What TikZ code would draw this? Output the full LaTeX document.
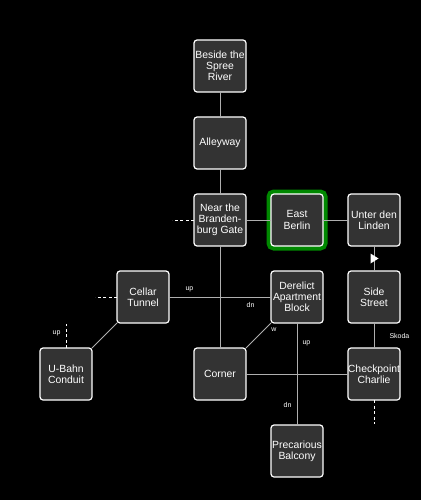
\documentclass[tikz,border=0pt]{standalone}
\usepackage{fontspec}
\setmainfont{Liberation Sans}
\usetikzlibrary{positioning}
\definecolor{roomfill}{RGB}{51,51,51}
\definecolor{linkgray}{RGB}{175,175,175}
\definecolor{hlgreen}{RGB}{0,136,0}
\tikzset{
  room/.style={rectangle, draw=white, fill=roomfill, text=white,
    minimum width=52pt, minimum height=52pt, inner sep=0pt, outer sep=0pt,
    align=center, font=\fontsize{10.4}{11.2}\selectfont,
    rounded corners=3pt, line width=1.2pt},
  current/.style={preaction={draw=hlgreen, line width=9pt}},
  link/.style={draw=linkgray, line width=1pt},
  stub/.style={draw=white, line width=1pt, dash pattern=on 3pt off 2.5pt},
  tag/.style={text=white, font=\fontsize{7}{8}\selectfont, inner sep=1pt}
}
\begin{document}
\begin{tikzpicture}[x=1pt, y=1pt, node distance=25pt and 25pt]
  \fill[black] (0,0) rectangle (421,-500);
  \useasboundingbox (0,0) rectangle (421,-500);

  \node[room] (spree) at (220,-66) {Beside the\\Spree\\River};
  \node[room, below=of spree] (alley) {Alleyway};
  \node[room, below=of alley] (gate) {Near the\\Branden-\\burg Gate};
  \node[room, current, right=of gate] (east) {East\\Berlin};
  \node[room, right=of east] (linden) {Unter den\\Linden};
  \node[room, below=of east] (derelict) {Derelict\\Apartment\\Block};
  \node[room, below=of linden] (side) {Side\\Street};
  \node[room, below=of side] (checkpoint) {Checkpoint\\Charlie};
  \node[room, left=102pt of derelict] (cellar) {Cellar\\Tunnel};
  \node[room, below left=of cellar] (ubahn) {U-Bahn\\Conduit};
  \node[room, below=102pt of gate] (corner) {Corner};
  \node[room, below=102pt of derelict] (balcony) {Precarious\\Balcony};

  % exits that lead off the map
  \coordinate[left=22pt of gate] (gateexit);
  \coordinate[left=22pt of cellar] (cellarexit);
  \coordinate[above=24pt of ubahn] (ubahnexit);
  \coordinate[below=24pt of checkpoint] (checkexit);

  \draw[link] (spree) -- (alley);
  \draw[link] (alley) -- (gate);
  \draw[link] (gate) -- (east);
  \draw[link] (east) -- (linden);
  \draw[link] (gate) -- (corner);
  \draw[link] (cellar) -- node[tag, pos=0.2, above=4pt] {up}
    node[tag, pos=0.8, below=4pt] {dn} (derelict);
  \draw[link] (cellar) -- (ubahn);
  \draw[link] (derelict) -- node[tag, pos=0.25, right=5pt] {w} (corner);
  \draw[link] (derelict) -- node[tag, pos=0.2, right=4pt] {up}
    node[tag, pos=0.8, left=4pt] {dn} (balcony);
  \draw[link] (corner) -- (checkpoint);
  \draw[link] (linden) -- coordinate[midway] (onewaymark) (side);
  \fill[white] (onewaymark) ++(-3.5,5) -- ++(8,-5) -- ++(-8,-5) -- cycle;
  \draw[link] (side) -- node[tag, midway, right=14pt] {Skoda} (checkpoint);

  \draw[stub] (gate) -- (gateexit);
  \draw[stub] (cellar) -- (cellarexit);
  \draw[stub] (ubahn) -- node[tag, pos=0.6, left=4pt] {up} (ubahnexit);
  \draw[stub] (checkpoint) -- (checkexit);
\end{tikzpicture}
\end{document}
